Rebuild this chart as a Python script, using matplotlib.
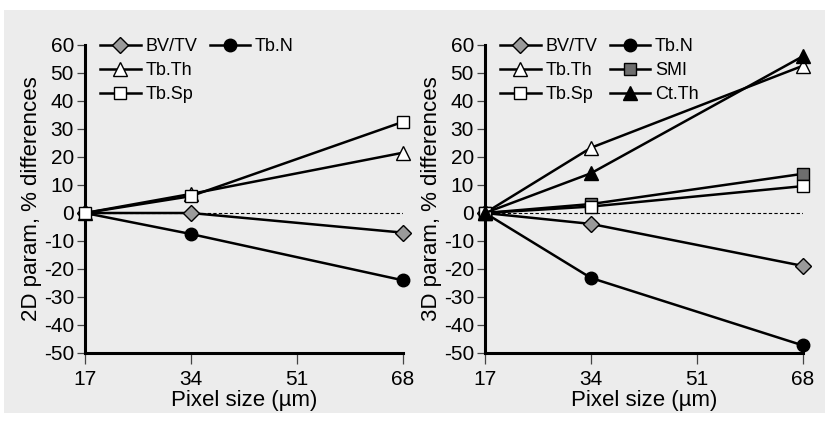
import matplotlib
matplotlib.use("Agg")
import matplotlib.pyplot as plt
from matplotlib.patches import Rectangle
from matplotlib.lines import Line2D
from matplotlib import font_manager

pixel_sizes = [17, 34, 68]
xticks = [17, 34, 51, 68]
yticks = [-50, -40, -30, -20, -10, 0, 10, 20, 30, 40, 50, 60]

# 2D parameters (% differences)
d2_bvtv = [0, 0, -7]
d2_tbn = [0, -7.5, -24]
d2_tbth = [0, 6.8, 21.5]
d2_tbsp = [0, 6.0, 32.5]

# 3D parameters (% differences)
d3_bvtv = [0, -3.9, -18.9]
d3_tbn = [0, -23.2, -47.3]
d3_tbth = [0, 23.3, 52.6]
d3_smi = [0, 3.2, 14.0]
d3_tbsp = [0, 2.3, 9.6]
d3_ctth = [0, 14.2, 56.0]

names = {f.name for f in font_manager.fontManager.ttflist}
fam = "Liberation Sans Narrow" if "Liberation Sans Narrow" in names else "Liberation Sans"
plt.rcParams['font.family'] = [fam, 'DejaVu Sans']
plt.rcParams['axes.unicode_minus'] = False

W, H = 825, 426
fig = plt.figure(figsize=(W / 100, H / 100), dpi=100, facecolor='white')
fig.patches.append(Rectangle((4 / W, 1 - 413 / H), 1, (413 - 10) / H,
                             transform=fig.transFigure, facecolor='#ececec',
                             edgecolor='none', zorder=-10))

styles = {
    'BV/TV': dict(marker='D', mfc='#9a9a9a', ms=8.5),
    'Tb.N': dict(marker='o', mfc='black', ms=9),
    'Tb.Th': dict(marker='^', mfc='white', ms=10),
    'Tb.Sp': dict(marker='s', mfc='white', ms=8),
    'SMI': dict(marker='s', mfc='#6e6e6e', ms=8),
    'Ct.Th': dict(marker='^', mfc='black', ms=10),
}

def make_ax(rect, series, col1, col2, ylabel):
    ax = fig.add_axes(rect)
    ax.set_facecolor('none')
    ax.set_xlim(17, 68)
    ax.set_ylim(-50, 60)
    ax.axhline(0, color='black', lw=0.8, ls=(0, (3, 2)), zorder=1)
    for name, vals in series:
        st = styles[name]
        ax.plot(pixel_sizes, vals, color='black', lw=1.8, marker=st['marker'],
                mfc=st['mfc'], mec='black', mew=1.0, ms=st['ms'],
                clip_on=False, zorder=3)
    for s in ['top', 'right']:
        ax.spines[s].set_visible(False)
    for s in ['left', 'bottom']:
        ax.spines[s].set_linewidth(2.2)
    ax.set_xticks(xticks)
    ax.set_yticks(yticks)
    ax.tick_params(axis='y', direction='out', length=6, width=0.9,
                   color='#444444', labelsize=15, pad=2)
    ax.tick_params(axis='x', direction='out', length=8, width=0.9,
                   color='#444444', labelsize=15, pad=4)
    ax.set_xlabel('Pixel size (µm)', fontsize=16, labelpad=1)
    ax.set_ylabel(ylabel, fontsize=16, labelpad=1)

    def h(name):
        st = styles[name]
        return Line2D([], [], color='black', lw=1.8, marker=st['marker'],
                      mfc=st['mfc'], mec='black', mew=1.0, ms=st['ms'])
    blank = Line2D([], [], color='none')
    handles = [h(n) for n in col1] + [h(n) for n in col2]
    labels = list(col1) + list(col2)
    n2 = len(col2)
    while n2 < 3:
        handles.append(blank)
        labels.append('')
        n2 += 1
    ax.legend(handles, labels, ncol=2, loc='upper left',
              bbox_to_anchor=(0.025, 1.045), frameon=False,
              fontsize=13, handlelength=2.25, handletextpad=0.25,
              columnspacing=0.7, labelspacing=0.38, borderaxespad=0)
    return ax

y0 = 1 - 353 / H
hgt = (353 - 45) / H
make_ax([85 / W, y0, (402.5 - 85) / W, hgt],
        [('BV/TV', d2_bvtv), ('Tb.N', d2_tbn), ('Tb.Th', d2_tbth), ('Tb.Sp', d2_tbsp)],
        ['BV/TV', 'Tb.Th', 'Tb.Sp'], ['Tb.N'], '2D param, % differences')
make_ax([485 / W, y0, (803 - 485) / W, hgt],
        [('BV/TV', d3_bvtv), ('Tb.N', d3_tbn), ('Tb.Th', d3_tbth), ('SMI', d3_smi),
         ('Tb.Sp', d3_tbsp), ('Ct.Th', d3_ctth)],
        ['BV/TV', 'Tb.Th', 'Tb.Sp'], ['Tb.N', 'SMI', 'Ct.Th'], '3D param, % differences')

fig.savefig('out.png', dpi=100, facecolor='white')
